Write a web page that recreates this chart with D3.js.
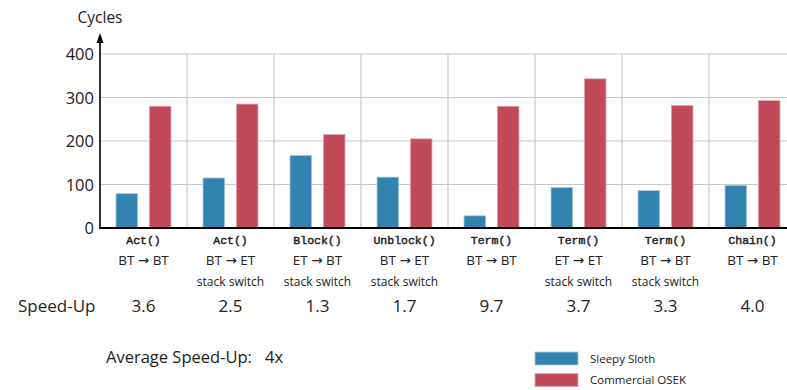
<!DOCTYPE html>
<html>
<head>
<meta charset="utf-8">
<script src="https://cdn.jsdelivr.net/npm/d3@7"></script>
<style>
  html, body { margin: 0; padding: 0; background: #fff; }
  svg { display: block; }
  text { font-family: "Open Sans", "DejaVu Sans", sans-serif; fill: #222; }
  .mono { font-family: "Liberation Mono", "DejaVu Sans Mono", monospace; }
</style>
</head>
<body>
<svg id="chart" width="787" height="390"></svg>
<script>
// System calls measured
const calls = ["Act()", "Act()", "Block()", "Unblock()", "Term()", "Term()", "Term()", "Chain()"];
const transitions = ["BT \u2192 BT", "BT \u2192 ET", "ET \u2192 BT", "BT \u2192 ET", "BT \u2192 BT", "ET \u2192 ET", "BT \u2192 BT", "BT \u2192 BT"];
const notes = ["", "stack switch", "stack switch", "stack switch", "", "stack switch", "stack switch", ""];
const speedUps = ["3.6", "2.5", "1.3", "1.7", "9.7", "3.7", "3.3", "4.0"];

// Cycle counts per system call
const sleepySloth = [79, 115, 167, 117, 28, 93, 86, 98];
const commercialOsek = [280, 285, 215, 205, 280, 343, 282, 293];

const yTicks = [0, 100, 200, 300, 400];
const seriesNames = ["Sleepy Sloth", "Commercial OSEK"];
const seriesColors = ["#3383b1", "#c04a59"];
const seriesStrokes = ["#a9cde3", "#e9aab3"];

const svg = d3.select("#chart");
const plotLeft = 100, groupW = 87, plotBottom = 228, plotTop = 54;

const x = d3.scaleBand().domain(d3.range(calls.length))
  .range([plotLeft, plotLeft + groupW * calls.length]).paddingInner(0).paddingOuter(0);
const xi = d3.scaleBand().domain([0, 1]).range([0, groupW]).paddingInner(0.35).paddingOuter(0.48);
const y = d3.scaleLinear().domain([0, 400]).range([plotBottom, plotTop]);

// Grid
svg.append("g").selectAll("line").data(yTicks.filter(d => d > 0)).join("line")
  .attr("x1", plotLeft).attr("x2", 787).attr("y1", d => y(d)).attr("y2", d => y(d))
  .attr("stroke", "#c8c8c8").attr("stroke-width", 1.2);
svg.append("g").selectAll("line").data(d3.range(1, calls.length)).join("line")
  .attr("x1", d => x(d)).attr("x2", d => x(d)).attr("y1", y(400)).attr("y2", plotBottom)
  .attr("stroke", "#c8c8c8").attr("stroke-width", 1.2);

// Bars
const series = [sleepySloth, commercialOsek];
series.forEach((vals, s) => {
  svg.append("g").selectAll("rect").data(vals).join("rect")
    .attr("x", (d, i) => x(i) + xi(s))
    .attr("width", xi.bandwidth())
    .attr("y", d => y(d))
    .attr("height", d => plotBottom - y(d))
    .attr("fill", seriesColors[s])
    .attr("stroke", seriesStrokes[s]).attr("stroke-width", 0.8);
});

// Axes
const yAxis = d3.axisLeft(y).tickValues(yTicks).tickSize(0).tickPadding(6);
const gy = svg.append("g").attr("transform", `translate(${plotLeft},0)`).call(yAxis);
gy.select(".domain").remove();
gy.selectAll("text").attr("font-size", 16.5).attr("font-family", "'Open Sans', sans-serif").attr("fill", "#222").attr("dy", "0.35em");

svg.append("line").attr("x1", plotLeft).attr("x2", plotLeft).attr("y1", plotBottom + 1).attr("y2", 40)
  .attr("stroke", "#000").attr("stroke-width", 1.6);
svg.append("path").attr("d", `M${plotLeft},33 L${plotLeft - 3.5},43 L${plotLeft + 3.5},43 Z`).attr("fill", "#000");
svg.append("line").attr("x1", plotLeft - 1).attr("x2", 787).attr("y1", plotBottom).attr("y2", plotBottom)
  .attr("stroke", "#000").attr("stroke-width", 2);

svg.append("text").attr("x", 100).attr("y", 23).attr("text-anchor", "middle")
  .attr("font-size", 15.5).text("Cycles");

// Category labels
const cx = i => x(i) + groupW / 2;
const labels = svg.append("g");
labels.selectAll(".call").data(calls).join("text").attr("class", "mono")
  .attr("x", (d, i) => cx(i)).attr("y", 244).attr("text-anchor", "middle")
  .attr("font-size", 11.5).attr("stroke", "#222").attr("stroke-width", 0.45).text(d => d);
labels.selectAll(".tr").data(transitions).join("text")
  .attr("x", (d, i) => cx(i)).attr("y", 265).attr("text-anchor", "middle")
  .attr("font-size", 13.5).text(d => d);
labels.selectAll(".note").data(notes).join("text")
  .attr("x", (d, i) => cx(i)).attr("y", 286).attr("text-anchor", "middle")
  .attr("font-size", 12).text(d => d);
labels.selectAll(".su").data(speedUps).join("text")
  .attr("x", (d, i) => cx(i)).attr("y", 312).attr("text-anchor", "middle")
  .attr("font-size", 17).text(d => d);
svg.append("text").attr("x", 18).attr("y", 312).attr("font-size", 17).text("Speed-Up");

const avg = svg.append("text").attr("y", 363).attr("font-size", 16.5);
avg.append("tspan").attr("x", 106).text("Average Speed-Up:");
avg.append("tspan").attr("x", 265).text("4x");

// Legend
const legend = svg.append("g").attr("transform", "translate(535,352)");
seriesNames.forEach((n, i) => {
  legend.append("rect").attr("x", 0).attr("y", i * 21.5).attr("width", 43).attr("height", 13)
    .attr("fill", seriesColors[i]).attr("stroke", seriesStrokes[i]).attr("stroke-width", 0.8);
  legend.append("text").attr("x", 55).attr("y", i * 21.5 + 10.5).attr("font-size", 11.5).text(n);
});
</script>
</body>
</html>
